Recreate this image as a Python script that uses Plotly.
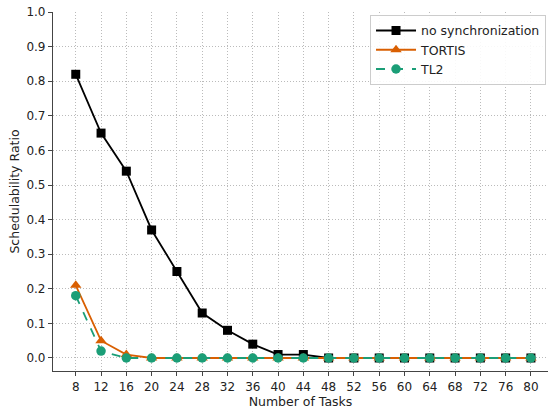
import plotly.graph_objects as go

tasks = [8, 12, 16, 20, 24, 28, 32, 36, 40, 44, 48, 52, 56, 60, 64, 68, 72, 76, 80]
no_sync = [0.82, 0.65, 0.54, 0.37, 0.25, 0.13, 0.08, 0.04, 0.01, 0.01, 0, 0, 0, 0, 0, 0, 0, 0, 0]
tortis = [0.21, 0.05, 0.01, 0, 0, 0, 0, 0, 0, 0, 0, 0, 0, 0, 0, 0, 0, 0, 0]
tl2 = [0.18, 0.02, 0, 0, 0, 0, 0, 0, 0, 0, 0, 0, 0, 0, 0, 0, 0, 0, 0]
y_ticks = [0.0, 0.1, 0.2, 0.3, 0.4, 0.5, 0.6, 0.7, 0.8, 0.9, 1.0]

fig = go.Figure()
fig.add_trace(go.Scatter(x=tasks, y=no_sync, name="no synchronization", mode="lines+markers",
                         line=dict(color="black", width=1.8),
                         marker=dict(symbol="square", size=9, color="black")))
fig.add_trace(go.Scatter(x=tasks, y=tortis, name="TORTIS", mode="lines+markers",
                         line=dict(color="#d95f02", width=1.8),
                         marker=dict(symbol="triangle-up", size=10, color="#d95f02")))
fig.add_trace(go.Scatter(x=tasks, y=tl2, name="TL2", mode="lines+markers",
                         line=dict(color="#1b9e77", width=1.8, dash="dash"),
                         marker=dict(symbol="circle", size=9.5, color="#1b9e77")))

fig.update_layout(
    width=548, height=412,
    margin=dict(l=53, r=0, t=12, b=41),
    paper_bgcolor="white", plot_bgcolor="white",
    font=dict(family="DejaVu Sans", size=12, color="#222"),
    showlegend=True,
    legend=dict(x=0.996, y=0.992, xanchor="right", yanchor="top",
                bordercolor="#cccccc", borderwidth=1, bgcolor="rgba(255,255,255,0.9)",
                font=dict(size=12.5), tracegroupgap=0, itemwidth=40),
)
fig.update_xaxes(
    range=[4.4, 82.7], tickmode="array", tickvals=tasks, ticktext=[str(t) for t in tasks],
    showline=True, linecolor="#444", linewidth=1.2,
    ticks="outside", ticklen=4, tickcolor="#444", tickfont=dict(size=12),
    showgrid=True, gridcolor="#bbbbbb", griddash="1px,2px", gridwidth=1,
    zeroline=False, title=dict(text="Number of Tasks", standoff=4, font=dict(size=12.5)),
)
fig.update_yaxes(
    range=[-0.0376, 1.0], tickmode="array", tickvals=y_ticks, ticktext=[f"{v:.1f}" for v in y_ticks],
    showline=True, linecolor="#444", linewidth=1.2,
    ticks="outside", ticklen=4, tickcolor="#444", tickfont=dict(size=12),
    showgrid=True, gridcolor="#bbbbbb", griddash="1px,2px", gridwidth=1,
    zeroline=False, title=dict(text="Schedulability Ratio", standoff=4, font=dict(size=12.5)),
)

fig.write_html("out.html")
